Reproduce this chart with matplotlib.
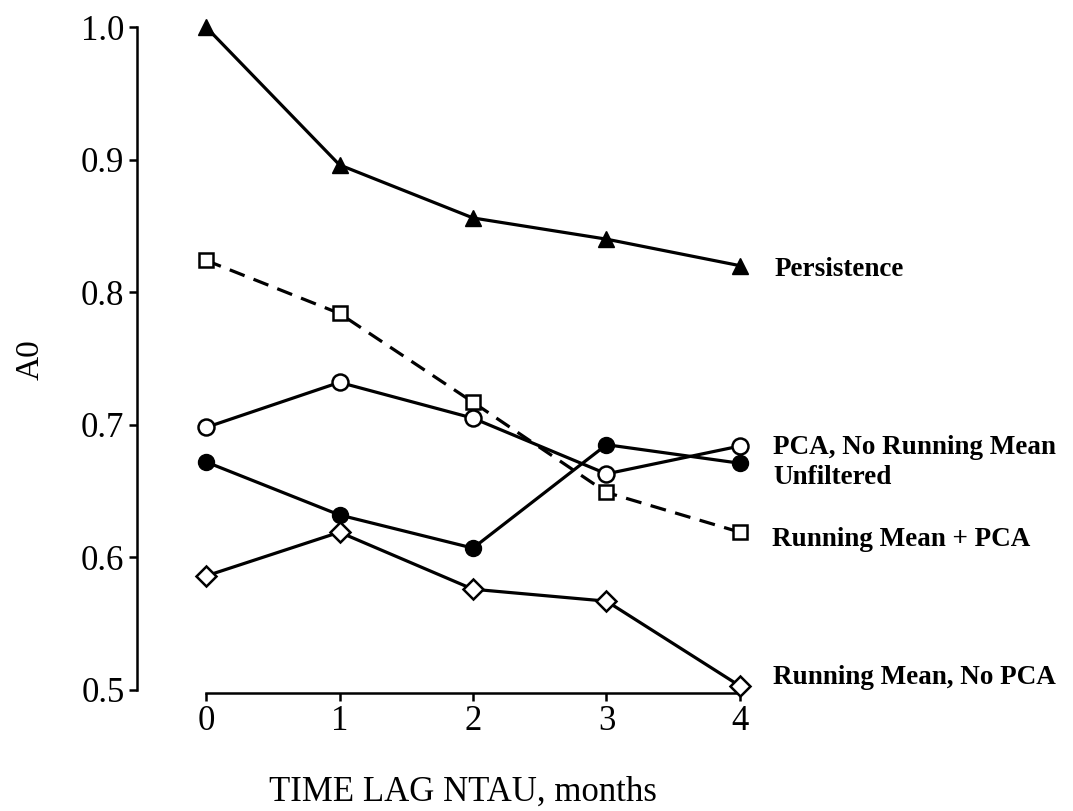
import matplotlib
matplotlib.use("Agg")
import matplotlib.pyplot as plt

lags = [0, 1, 2, 3, 4]
persistence = [1.000, 0.896, 0.856, 0.840, 0.820]
rm_pca = [0.824, 0.784, 0.717, 0.649, 0.619]
pca_no_rm = [0.698, 0.732, 0.705, 0.663, 0.684]
unfiltered = [0.672, 0.632, 0.607, 0.685, 0.671]
rm_no_pca = [0.586, 0.619, 0.576, 0.567, 0.503]

series_labels = ["Persistence", "PCA, No Running Mean", "Unfiltered",
                 "Running Mean + PCA", "Running Mean, No PCA"]
yticks = [0.5, 0.6, 0.7, 0.8, 0.9, 1.0]
ytick_labels = ["0.5", "0.6", "0.7", "0.8", "0.9", "1.0"]

W, H = 1073, 811
fig = plt.figure(figsize=(W / 100, H / 100), dpi=100)
plt.rcParams['font.family'] = ['Liberation Serif', 'DejaVu Serif']

L, R, T, B = 137, 760, 20, 693
ax = fig.add_axes([L / W, 1 - B / H, (R - L) / W, (B - T) / H])

x0p, xs = 206, 133.5
ax.set_xlim((L - x0p) / xs, (R - x0p) / xs)
y1p, ys = 27, 1326
ax.set_ylim(1.0 - (B - y1p) / ys, 1.0 - (T - y1p) / ys)

lw = 2.3
common = dict(color='black', lw=lw, clip_on=False, zorder=3)
ax.plot(lags, persistence, marker='^', ms=12, mfc='black', mec='black', **common)
ax.plot(lags, rm_pca, marker='s', ms=10.5, mfc='white', mec='black', mew=1.8,
        ls=(0, (5, 3)), **common)
ax.plot(lags, pca_no_rm, marker='o', ms=11.5, mfc='white', mec='black', mew=1.8, **common)
ax.plot(lags, unfiltered, marker='o', ms=11.5, mfc='black', mec='black', **common)
ax.plot(lags, rm_no_pca, marker='D', ms=10.5, mfc='white', mec='black', mew=1.8, **common)

for s in ['top', 'right']:
    ax.spines[s].set_visible(False)
ax.spines['left'].set_bounds(0.5, 1.0)
ax.spines['bottom'].set_bounds(0, 4)
for s in ['left', 'bottom']:
    ax.spines[s].set_linewidth(1.8)

ax.set_yticks(yticks)
ax.set_yticklabels(ytick_labels)
ax.set_xticks(lags)
ax.set_xticklabels([str(v) for v in lags])
ax.tick_params(axis='both', direction='out', length=6, width=1.8, labelsize=25, pad=3)

fig.text(30 / W, 1 - 360 / H, "A0", rotation=90, fontsize=24, ha='center', va='center')
fig.text(463 / W, 1 - 792 / H, "TIME LAG NTAU, months", fontsize=25, ha='center', va='center')

label_pos = [(775, 270), (773, 447), (773, 477), (772, 540), (773, 677)]
for txt, (px, py) in zip(series_labels, label_pos):
    fig.text(px / W, 1 - py / H, txt, fontsize=19.5, fontweight='bold', ha='left', va='center')

fig.savefig("out.png", dpi=100, facecolor='white')
